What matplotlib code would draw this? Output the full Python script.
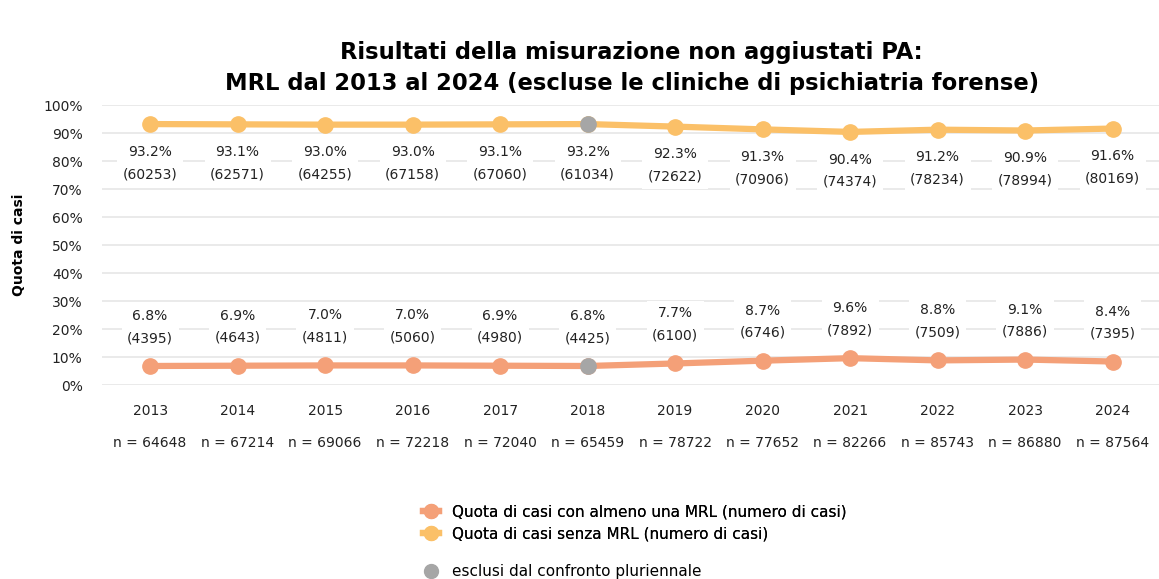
import matplotlib.pyplot as plt
from matplotlib.lines import Line2D
from matplotlib.transforms import blended_transform_factory

plt.rcParams['font.family'] = ['DejaVu Sans']

# dati
anni = ["2013", "2014", "2015", "2016", "2017", "2018", "2019", "2020", "2021", "2022", "2023", "2024"]
con_mrl = [6.8, 6.9, 7.0, 7.0, 6.9, 6.8, 7.7, 8.7, 9.6, 8.8, 9.1, 8.4]
con_mrl_n = [4395, 4643, 4811, 5060, 4980, 4425, 6100, 6746, 7892, 7509, 7886, 7395]
senza_mrl = [93.2, 93.1, 93.0, 93.0, 93.1, 93.2, 92.3, 91.3, 90.4, 91.2, 90.9, 91.6]
senza_mrl_n = [60253, 62571, 64255, 67158, 67060, 61034, 72622, 70906, 74374, 78234, 78994, 80169]
totale_n = [64648, 67214, 69066, 72218, 72040, 65459, 78722, 77652, 82266, 85743, 86880, 87564]
esclusi = ["2018"]

col_con = "#F4A078"
col_senza = "#FBC068"
col_grigio = "#A6A6A6"

fig = plt.figure(figsize=(11.59, 5.79), dpi=100)
ax = fig.add_axes([0.088, 0.335, 0.912, 0.4836])

x = list(range(len(anni)))
ax.plot(x, senza_mrl, color=col_senza, lw=4.5, marker="o", ms=11, zorder=3)
ax.plot(x, con_mrl, color=col_con, lw=4.5, marker="o", ms=11, zorder=3)

# punti esclusi
for a in esclusi:
    i = anni.index(a)
    ax.plot([i, i], [senza_mrl[i], con_mrl[i]], ls="none", marker="o", ms=11,
            color=col_grigio, zorder=4)

box = dict(boxstyle="square,pad=0.4", fc="white", ec="none")
for i in x:
    ax.annotate(f"{senza_mrl[i]:.1f}%\n({senza_mrl_n[i]})", (i, senza_mrl[i]),
                xytext=(0, -28), textcoords="offset points", ha="center", va="center",
                fontsize=10, color="#222222", linespacing=1.75, bbox=box, zorder=5)
    ax.annotate(f"{con_mrl[i]:.1f}%\n({con_mrl_n[i]})", (i, con_mrl[i]),
                xytext=(0, 28), textcoords="offset points", ha="center", va="center",
                fontsize=10, color="#222222", linespacing=1.75, bbox=box, zorder=5)

ax.set_xlim(-0.55, 11.53)
ax.set_ylim(0, 100)
ax.set_yticks(range(0, 101, 10))
ax.set_yticklabels([f"{v}%" for v in range(0, 101, 10)])
ax.set_xticks(x)
ax.set_xticklabels(anni)
ax.tick_params(length=0, labelsize=10, colors="#222222")
ax.tick_params(axis="x", pad=14)
ax.tick_params(axis="y", pad=14)
ax.grid(axis="y", color="#E6E6E6", lw=1.2, zorder=0)
ax.set_axisbelow(True)
for s in ax.spines.values():
    s.set_visible(False)

# n sotto gli anni
trans = blended_transform_factory(ax.transData, ax.transAxes)
for i in x:
    ax.text(i, -0.207, f"n = {totale_n[i]}", transform=trans, ha="center", va="center",
            fontsize=10, color="#222222")

fig.text(0.016, 0.577, "Quota di casi", rotation=90, ha="center", va="center",
         fontsize=10, fontweight="bold")
fig.text(0.545, 0.883, "Risultati della misurazione non aggiustati PA:\nMRL dal 2013 al 2024 (escluse le cliniche di psichiatria forense)",
         ha="center", va="center", fontsize=16.3, fontweight="bold", linespacing=1.42)

# legenda
h1 = [Line2D([], [], color=col_con, lw=4.5, marker="o", ms=10),
      Line2D([], [], color=col_senza, lw=4.5, marker="o", ms=10)]
leg1 = fig.legend(h1, ["Quota di casi con almeno una MRL (numero di casi)",
                       "Quota di casi senza MRL (numero di casi)"],
                  loc="upper left", bbox_to_anchor=(0.36, 0.139), frameon=False,
                  fontsize=11, handlelength=1.0, handletextpad=0.9, labelspacing=0.42,
                  borderaxespad=0)
fig.add_artist(leg1)
h2 = [Line2D([], [], ls="none", color=col_grigio, marker="o", ms=10)]
fig.legend(h2, ["esclusi dal confronto pluriennale"], loc="upper left",
           bbox_to_anchor=(0.36, 0.036), frameon=False, fontsize=11,
           handlelength=1.0, handletextpad=0.9, borderaxespad=0)

fig.savefig("out.png", dpi=100)
